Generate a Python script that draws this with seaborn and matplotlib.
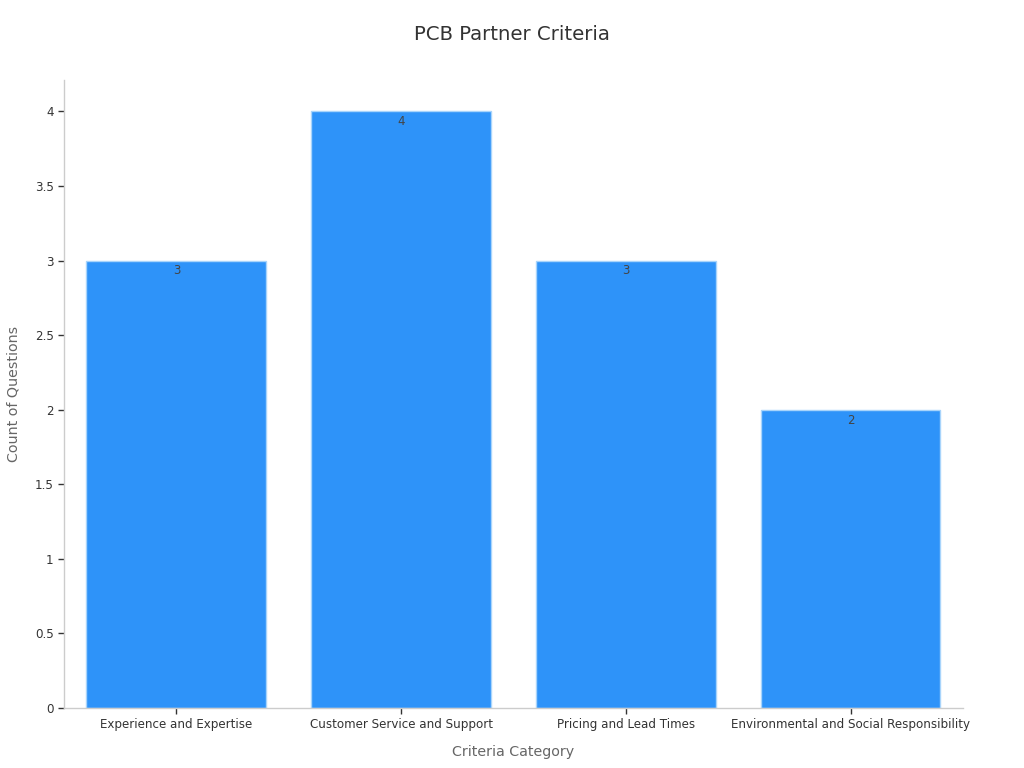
import matplotlib
matplotlib.use("Agg")
import matplotlib.pyplot as plt
import seaborn as sns
import pandas as pd

categories = ["Experience and Expertise", "Customer Service and Support",
              "Pricing and Lead Times", "Environmental and Social Responsibility"]
counts = [3, 4, 3, 2]
yticks = [0, 0.5, 1, 1.5, 2, 2.5, 3, 3.5, 4]
ytick_labels = ["0", "0.5", "1", "1.5", "2", "2.5", "3", "3.5", "4"]

df = pd.DataFrame({"Criteria Category": categories, "Count of Questions": counts})

sns.set_theme(style="white")
plt.rcParams['font.family'] = ['DejaVu Sans']

fig = plt.figure(figsize=(10.24, 7.68), dpi=100)
ax = fig.add_axes([0.0625, 0.0781, 0.8779, 0.8177])

sns.barplot(data=df, x="Criteria Category", y="Count of Questions", color="#2E93F9",
            saturation=1, width=0.8, edgecolor="#A8D4FB", linewidth=1, ax=ax)

for i, v in enumerate(counts):
    ax.annotate(str(v), xy=(i, v), xytext=(0, -7.5), textcoords="offset points",
                ha="center", va="center", fontsize=8.5, color="#444444")

ax.set_xlim(-0.5, 3.5)
ax.set_ylim(0, 4.21)
ax.set_yticks(yticks)
ax.set_yticklabels(ytick_labels)
ax.tick_params(axis="both", labelsize=8.6, colors="#333333", length=4, width=1,
               bottom=True, left=True)
for t in ax.get_xticklines() + ax.get_yticklines():
    t.set_color("#999999")

for s in ["top", "right"]:
    ax.spines[s].set_visible(False)
for s in ["left", "bottom"]:
    ax.spines[s].set_color("#cccccc")
    ax.spines[s].set_linewidth(1)

ax.set_xlabel("Criteria Category", fontsize=10.3, color="#666666", labelpad=10)
ax.set_ylabel("Count of Questions", fontsize=10.3, color="#666666", labelpad=10)
fig.suptitle("PCB Partner Criteria", fontsize=14.2, color="#333333", y=0.968)

fig.savefig("out.png", dpi=100)
